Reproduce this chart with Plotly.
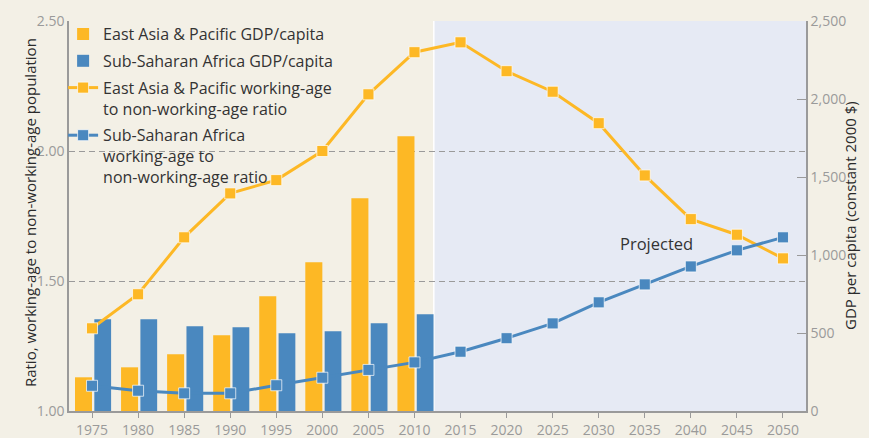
import plotly.graph_objects as go

# data
bar_years = [1975, 1980, 1985, 1990, 1995, 2000, 2005, 2010]
eap_gdp = [216, 280, 363, 485, 735, 953, 1363, 1761]
ssa_gdp = [588, 588, 543, 537, 498, 511, 562, 620]

years = [1975, 1980, 1985, 1990, 1995, 2000, 2005, 2010,
         2015, 2020, 2025, 2030, 2035, 2040, 2045, 2050]
eap_ratio = [1.318, 1.449, 1.668, 1.837, 1.888, 2.000, 2.218, 2.380,
             2.418, 2.307, 2.228, 2.107, 1.906, 1.738, 1.678, 1.587]
ssa_ratio = [1.097, 1.078, 1.068, 1.068, 1.099, 1.128, 1.158, 1.187,
             1.228, 1.280, 1.337, 1.418, 1.487, 1.556, 1.618, 1.668]

ORANGE = '#FDB825'
BLUE = '#4A88BF'
BG = '#F3F0E6'
SHADE = '#E6EAF4'
GRAY = '#9A9A9A'
DARK = '#2A2A2A'
FONT = 'Open Sans'

fig = go.Figure()

# bars sit on the primary (right) axis so lines on the overlay draw above them
fig.add_trace(go.Bar(
    x=bar_years, y=eap_gdp, name='East Asia & Pacific GDP/capita',
    marker=dict(color=ORANGE, line=dict(width=0)),
    offset=-1.85, width=1.85, yaxis='y', legendgroup='a'
))
fig.add_trace(go.Bar(
    x=bar_years, y=ssa_gdp, name='Sub-Saharan Africa GDP/capita',
    marker=dict(color=BLUE, line=dict(width=0)),
    offset=0.25, width=1.82, yaxis='y', legendgroup='b'
))
fig.add_trace(go.Scatter(
    x=years, y=eap_ratio, mode='lines+markers',
    name='East Asia & Pacific working-age<br>to non-working-age ratio',
    line=dict(color=ORANGE, width=3),
    marker=dict(symbol='square', size=11, color=ORANGE,
                line=dict(color='rgba(255,255,255,0.7)', width=1)),
    yaxis='y2', legendgroup='c'
))
fig.add_trace(go.Scatter(
    x=years, y=ssa_ratio, mode='lines+markers',
    name='Sub-Saharan Africa<br>working-age to<br>non-working-age ratio',
    line=dict(color=BLUE, width=3),
    marker=dict(symbol='square', size=11, color=BLUE,
                line=dict(color='rgba(255,255,255,0.7)', width=1)),
    yaxis='y2', legendgroup='d'
))

# projected period shading
fig.add_shape(type='rect', xref='x', yref='paper', x0=2012.1, x1=2052.5,
              y0=0, y1=1, fillcolor=SHADE, line=dict(width=0), layer='below')
fig.add_shape(type='line', xref='x', yref='paper', x0=2012.1, x1=2012.1,
              y0=0, y1=1, line=dict(color='white', width=1.5), layer='below')
# legend backing: hides the gridlines but stays under the traces
fig.add_shape(type='rect', xref='paper', yref='paper', x0=0.003, x1=0.361,
              y0=0.585, y1=0.995, fillcolor=BG, line=dict(width=0),
              layer='between')

fig.add_annotation(x=2036.3, y=1.646, xref='x', yref='y2', text='Projected',
                   showarrow=False, font=dict(family=FONT, size=16.5, color='#333333'))

# axis titles as annotations for exact placement
fig.add_annotation(x=-0.0692, y=0.51, xref='paper', yref='paper',
                   text='Ratio, working-age to non-working-age population',
                   textangle=-90, showarrow=False,
                   font=dict(family=FONT, size=15, color=DARK))
fig.add_annotation(x=1.076, y=0.50, xref='paper', yref='paper',
                   text='GDP per capita (constant 2000 $)',
                   textangle=-90, showarrow=False,
                   font=dict(family=FONT, size=15, color=DARK))

fig.update_layout(
    width=869, height=438,
    margin=dict(l=69, r=63, t=21, b=27, autoexpand=False),
    paper_bgcolor=BG, plot_bgcolor=BG,
    barmode='overlay',
    font=dict(family=FONT, size=14, color=GRAY),
    showlegend=True,
    legend=dict(x=-0.008, y=1.01, xanchor='left', yanchor='top',
                bgcolor='rgba(0,0,0,0)', valign='top',
                font=dict(family=FONT, size=16, color='#333333'),
                tracegroupgap=3, itemwidth=30),
    xaxis=dict(range=[1972.5, 2052.5], tickvals=years, ticks='outside',
               ticklen=5, tickcolor=GRAY, showline=True, linecolor=GRAY,
               linewidth=1.5, showgrid=False, zeroline=False, automargin=False,
               tickfont=dict(family=FONT, size=14, color=GRAY)),
    yaxis=dict(side='right', range=[0, 2500], dtick=500, tickformat=',',
               ticks='inside', ticklen=9, tickcolor=GRAY, showline=True,
               linecolor=GRAY, linewidth=1.5, showgrid=False, zeroline=False,
               automargin=False,
               tickfont=dict(family=FONT, size=14, color=GRAY)),
    yaxis2=dict(overlaying='y', side='left', range=[1, 2.5], dtick=0.5,
                tickformat='.2f', ticks='inside', ticklen=3, tickcolor=GRAY,
                showline=True, linecolor=GRAY, linewidth=1.5,
                showgrid=True, gridcolor=GRAY, griddash='6px,4px', gridwidth=1,
                zeroline=False, automargin=False,
                tickfont=dict(family=FONT, size=14, color=GRAY)),
)

# drop the default page margin so the figure sits at the window's corner
fig.write_html("out.html", config={'displayModeBar': False},
               post_script="document.body.style.margin='0';")
